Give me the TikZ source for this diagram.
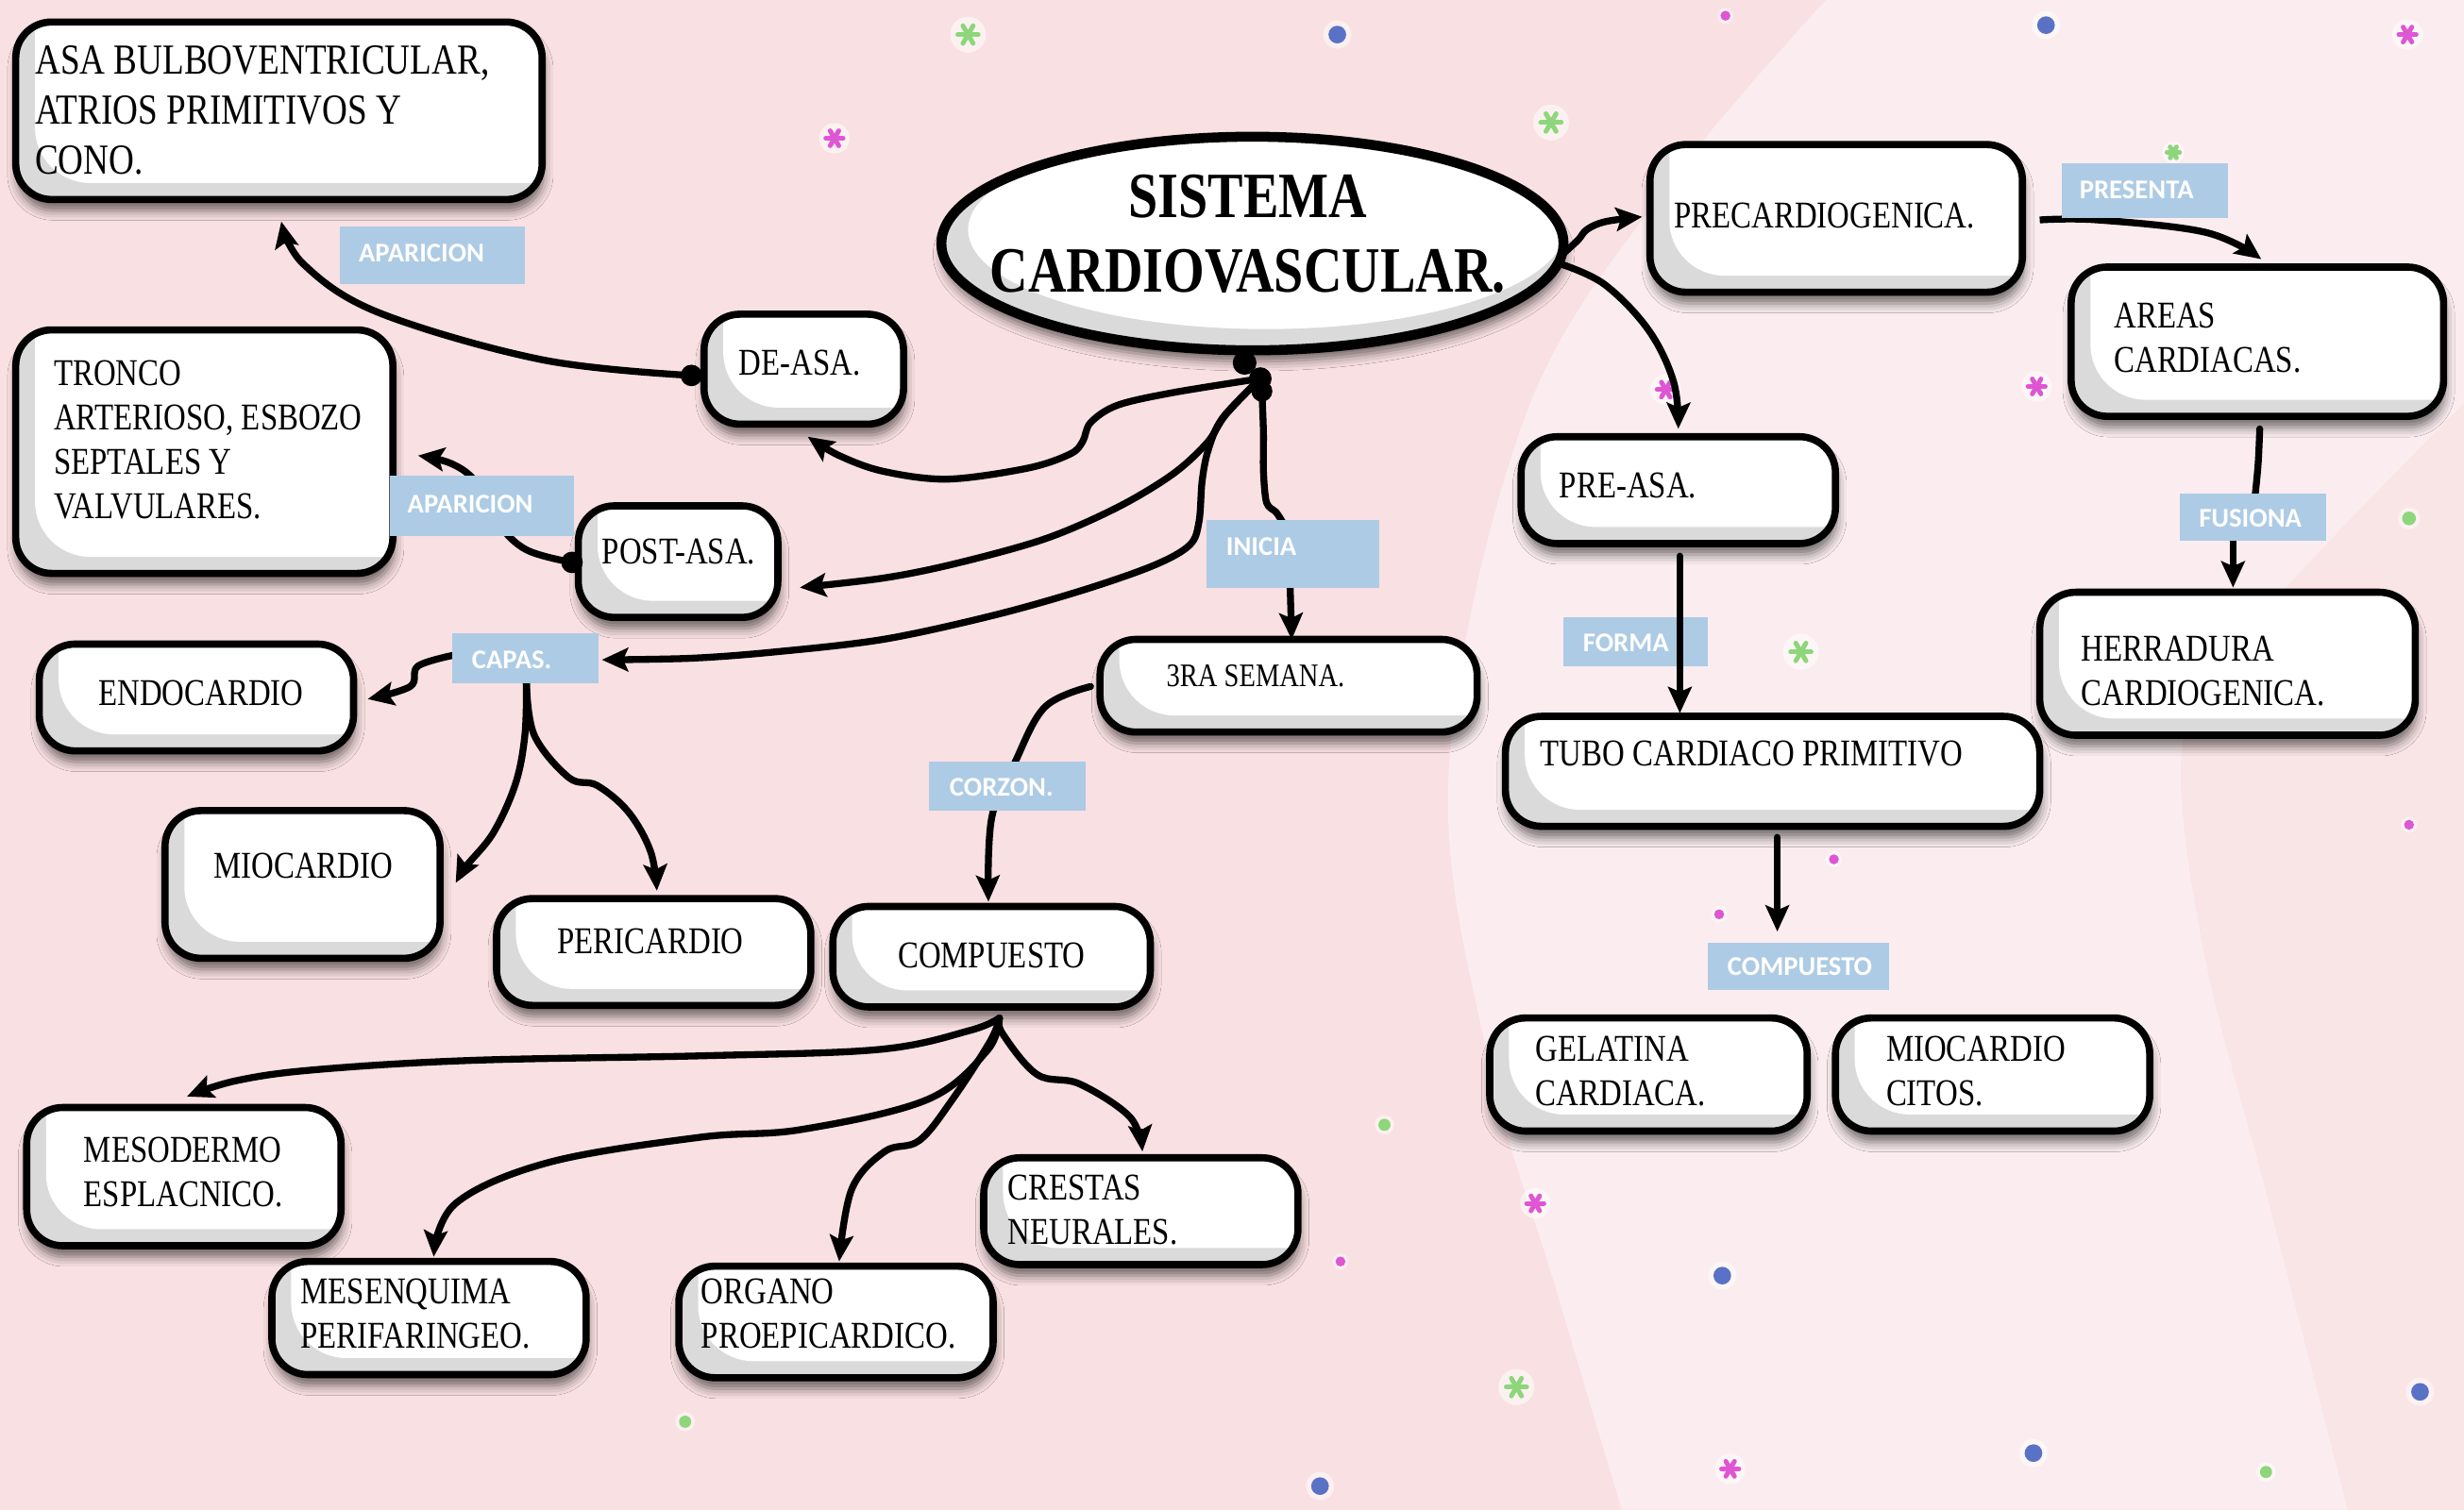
\documentclass[tikz,border=0pt]{standalone}
\usepackage{fontspec}
\setmainfont{Liberation Serif}
\newfontfamily\boxfont[FakeStretch=0.82]{Liberation Serif}
\newfontfamily\tagfont{Carlito}
\usetikzlibrary{arrows.meta,fit,calc,shapes.geometric,shadows.blur}

\definecolor{bgpink}{HTML}{F9E0E2}
\definecolor{bglight}{HTML}{FBEDEF}
\definecolor{bgband}{HTML}{F9E4E6}
\definecolor{boxgrey}{HTML}{DADADA}
\definecolor{tagblue}{HTML}{ADCBE4}
\definecolor{stargreen}{HTML}{8ED67B}
\definecolor{starpink}{HTML}{DE56D3}
\definecolor{dotblue}{HTML}{5A72C6}

% small decorative sparkles of the background
\newcommand{\sparkle}[4]{%
  \fill[white,opacity=0.55] (#1,#2) circle[radius=#4*1pt];
  \foreach \ang in {0,60,120}
    \draw[#3,line width=1.7pt,line cap=round] (#1,#2) ++(\ang:#4) -- ++(\ang+180:2*#4);}
\newcommand{\speck}[4]{%
  \fill[white,opacity=0.5] (#1,#2) circle[radius=#4*1.6pt];
  \fill[#3] (#1,#2) circle[radius=#4*1pt];}

\begin{document}
\begin{tikzpicture}[x=0.02cm,y=-0.02cm,
  mapbox/.style={draw=black,line width=2.6pt,rounded corners=13pt,fill=boxgrey,inner sep=0pt,
    blur shadow={shadow xshift=0.5pt,shadow yshift=-4pt,shadow blur radius=3.5pt,shadow opacity=55},
    path picture={\fill[white,rounded corners=20pt]
      ([xshift=7pt,yshift=6pt]path picture bounding box.south west) rectangle
      ([xshift=30pt,yshift=30pt]path picture bounding box.north east);}},
  mainoval/.style={ellipse,draw=black,line width=3.6pt,fill=boxgrey,inner sep=0pt,
    minimum width=7.92cm,minimum height=2.72cm,
    blur shadow={shadow xshift=0.5pt,shadow yshift=-4pt,shadow blur radius=3.5pt,shadow opacity=55},
    path picture={\fill[white] ([xshift=5pt,yshift=5pt]path picture bounding box.center)
      ellipse[x radius=108pt,y radius=36pt];}},
  boxtext/.style={font=\boxfont\fontsize{13.7}{16.1}\selectfont,align=left,inner sep=0pt,text=black},
  bigtext/.style={font=\boxfont\fontsize{15.5}{18.1}\selectfont,align=left,inner sep=0pt,text=black},
  smalltext/.style={font=\boxfont\fontsize{11.9}{14}\selectfont,align=left,inner sep=0pt,text=black},
  titletext/.style={font=\boxfont\bfseries\fontsize{23.4}{27.2}\selectfont,align=center,inner sep=0pt,text=black},
  tag/.style={fill=tagblue,inner sep=0pt},
  tagtext/.style={font=\tagfont\bfseries\fontsize{9.8}{11}\selectfont,text=white,anchor=west,inner sep=0pt},
  conn/.style={draw=black,line width=2.5pt,line cap=round,line join=round},
  tip/.style={-{Stealth[length=9.5pt,width=8.5pt,inset=1.8pt]}},
  startdot/.style={fill=black}]

\useasboundingbox (0,0) rectangle (1568,961);

% ---------- background ----------
\fill[bgpink] (0,0) rectangle (1568,961);
\fill[bglight] plot[smooth,tension=0.6] coordinates {(1162,0) (1060,120) (971,264) (922,490) (947,674) (990,820) (1032,961)}
  -- (1494,961) -- plot[smooth,tension=0.6] coordinates {(1494,961) (1444,766) (1404,613) (1388,490) (1408,429) (1484,343) (1568,257)}
  -- (1568,0) -- cycle;
\fill[bgband] plot[smooth,tension=0.6] coordinates {(1494,961) (1444,766) (1404,613) (1388,490) (1408,429) (1484,343) (1568,257)}
  -- (1568,961) -- cycle;

\sparkle{616}{22}{stargreen}{6.5}
\sparkle{987}{78}{stargreen}{6.5}
\sparkle{1146}{415}{stargreen}{6.5}
\sparkle{965}{883}{stargreen}{6.5}
\sparkle{1383}{97}{stargreen}{4}
\sparkle{531}{88}{starpink}{5.5}
\sparkle{1532}{22}{starpink}{5.5}
\sparkle{1060}{248}{starpink}{5.5}
\sparkle{1296}{246}{starpink}{5.5}
\sparkle{977}{766}{starpink}{5.5}
\sparkle{1101}{935}{starpink}{5.5}
\speck{851}{22}{dotblue}{3.2}
\speck{1302}{16}{dotblue}{3.2}
\speck{1096}{812}{dotblue}{3.2}
\speck{1540}{886}{dotblue}{3.2}
\speck{1294}{925}{dotblue}{3.2}
\speck{840}{946}{dotblue}{3.2}
\speck{1533}{330}{stargreen}{2.5}
\speck{881}{716}{stargreen}{2.2}
\speck{436}{905}{stargreen}{2.2}
\speck{1442}{937}{stargreen}{2.2}
\speck{1098}{10}{starpink}{1.8}
\speck{1533}{525}{starpink}{1.8}
\speck{1167}{547}{starpink}{1.8}
\speck{1094}{582}{starpink}{1.8}
\speck{853}{803}{starpink}{1.8}

% ---------- boxes ----------
\node[mainoval] (sis) at (797,155) {};
\node[titletext] (sis-t) at (794,149) {SISTEMA\\CARDIOVASCULAR.};

\node[mapbox,fit={(10,14) (345,127)}] (asa) {};
\node[bigtext,anchor=west] (asa-t) at (22,70) {ASA BULBOVENTRICULAR,\\ATRIOS PRIMITIVOS Y\\CONO.};

\node[mapbox,fit={(448,200) (575,270)}] (deasa) {};
\node[boxtext] (deasa-t) at (509,231) {DE-ASA.};

\node[mapbox,fit={(10,210) (250,365)}] (tronco) {};
\node[boxtext,anchor=west] (tronco-t) at (34,280) {TRONCO\\ARTERIOSO, ESBOZO\\SEPTALES Y\\VALVULARES.};

\node[mapbox,fit={(368,322) (495,393)}] (postasa) {};
\node[boxtext] (postasa-t) at (432,351) {POST-ASA.};

\node[mapbox,fit={(25,410) (225,478)}] (endo) {};
\node[boxtext] (endo-t) at (128,441) {ENDOCARDIO};

\node[mapbox,fit={(105,516) (280,610)}] (mio) {};
\node[boxtext] (mio-t) at (193,551) {MIOCARDIO};

\node[mapbox,fit={(316,572) (516,640)}] (peri) {};
\node[boxtext] (peri-t) at (414,599) {PERICARDIO};

\node[mapbox,fit={(700,407) (940,466)}] (semana) {};
\node[smalltext,anchor=west] (semana-t) at (742,430) {3RA SEMANA.};

\node[mapbox,fit={(530,577) (732,641)}] (comp) {};
\node[boxtext] (comp-t) at (631,608) {COMPUESTO};

\node[mapbox,fit={(17,705) (217,793)}] (meso) {};
\node[boxtext,anchor=west] (meso-t) at (53,746) {MESODERMO\\ESPLACNICO.};

\node[mapbox,fit={(173,803) (373,875)}] (mesen) {};
\node[boxtext,anchor=west] (mesen-t) at (191,836) {MESENQUIMA\\PERIFARINGEO.};

\node[mapbox,fit={(432,806) (632,877)}] (organo) {};
\node[boxtext,anchor=west] (organo-t) at (446,836) {ORGANO\\PROEPICARDICO.};

\node[mapbox,fit={(626,737) (826,805)}] (crestas) {};
\node[boxtext,anchor=west] (crestas-t) at (641,770) {CRESTAS\\NEURALES.};

\node[mapbox,fit={(1050,92) (1287,186)}] (precard) {};
\node[boxtext] (precard-t) at (1161,137) {PRECARDIOGENICA.};

\node[mapbox,fit={(1318,170) (1555,265)}] (areas) {};
\node[boxtext,anchor=west] (areas-t) at (1345,215) {AREAS\\CARDIACAS.};

\node[mapbox,fit={(968,278) (1168,346)}] (preasa) {};
\node[boxtext,anchor=west] (preasa-t) at (992,309) {PRE-ASA.};

\node[mapbox,fit={(1298,377) (1537,468)}] (herr) {};
\node[boxtext,anchor=west] (herr-t) at (1324,427) {HERRADURA\\CARDIOGENICA.};

\node[mapbox,fit={(958,456) (1298,526)}] (tubo) {};
\node[boxtext,anchor=west] (tubo-t) at (980,480) {TUBO CARDIACO PRIMITIVO};

\node[mapbox,fit={(948,648) (1150,720)}] (gel) {};
\node[boxtext,anchor=west] (gel-t) at (977,682) {GELATINA\\CARDIACA.};

\node[mapbox,fit={(1168,648) (1368,720)}] (mioc) {};
\node[boxtext,anchor=west] (mioc-t) at (1200,682) {MIOCARDIO\\CITOS.};

% ---------- connector end points ----------
\coordinate (hubA) at (792,231);
\coordinate (hubB) at (802,241);
\coordinate (hubC) at (803,249);
\coordinate (toDeasa) at (514,278);
\coordinate (toPost) at (509,374);
\coordinate (toCapas) at (383,420);
\coordinate (toInicia) at (816,332);
\coordinate (iniB) at (821,374);
\coordinate (toSemana) at (822,407);
\coordinate (dotDe) at (440,239);
\coordinate (toAsa) at (179,141);
\coordinate (dotPost) at (364,358);
\coordinate (toTronco) at (266,290);
\coordinate (capL) at (289,417);
\coordinate (capB) at (335,435);
\coordinate (toEndo) at (234,445);
\coordinate (toMio) at (290,562);
\coordinate (toPeri) at (418,567);
\coordinate (semL) at (694,437);
\coordinate (toComp) at (629,574);
\coordinate (fan) at (636,648);
\coordinate (toMeso) at (119,698);
\coordinate (toMesen) at (276,800);
\coordinate (toOrgano) at (534,803);
\coordinate (toCrestas) at (727,733);
\coordinate (sisR) at (993,163);
\coordinate (sisR2) at (993,168);
\coordinate (toPrecard) at (1045,138);
\coordinate (toPreasa) at (1068,273);
\coordinate (precR) at (1298,140);
\coordinate (toAreas) at (1439,165);
\coordinate (areasB) at (1438,273);
\coordinate (fusT) at (1435,316);
\coordinate (fusB) at (1421,344);
\coordinate (toHerr) at (1421,374);
\coordinate (preasaB) at (1069,354);
\coordinate (toTubo) at (1069,454);
\coordinate (tuboB) at (1131,533);
\coordinate (toComptag) at (1131,593);

% ---------- connectors ----------
\draw[conn,tip] plot[smooth,tension=0.55] coordinates {(hubB) (746,250) (711,258) (694,269) (689,281) (681,289) (654,298) (603,305) (562,300) (534,290) (toDeasa)};
\draw[conn,tip] plot[smooth,tension=0.55] coordinates {(hubB) (780,264) (768,282) (746,302) (711,323) (665,343) (607,359) (562,368) (toPost)};
\draw[conn,tip] plot[smooth,tension=0.55] coordinates {(hubB) (778,266) (769,286) (765,306) (763,332) (757,347) (734,360) (688,376) (631,392) (562,407) (493,415) (440,419) (toCapas)};
\draw[conn] plot[smooth,tension=0.5] coordinates {(hubC) (804,275) (804,300) (806,320) (812,326) (toInicia)};
\draw[conn,tip] (iniB) -- (toSemana);

\draw[conn,tip] plot[smooth,tension=0.6] coordinates {(sisR) (1004,153) (1010,146) (1022,141) (toPrecard)};
\draw[conn,tip] plot[smooth,tension=0.6] coordinates {(sisR2) (1021,181) (1049,210) (1065,243) (toPreasa)};

\draw[conn,tip] plot[smooth,tension=0.6] coordinates {(dotDe) (345,229) (241,199) (193,168) (toAsa)};
\draw[conn,tip] plot[smooth,tension=0.6] coordinates {(dotPost) (335,350) (317,333) (303,307) (287,295) (toTronco)};

\draw[conn,tip] plot[smooth,tension=0.6] coordinates {(capL) (266,424) (261,437) (toEndo)};
\draw[conn,tip] plot[smooth,tension=0.6] coordinates {(capB) (334,468) (328,499) (314,530) (297,551) (toMio)};
\draw[conn,tip] plot[smooth,tension=0.6] coordinates {(capB) (340,468) (362,495) (380,500) (400,517) (414,542) (toPeri)};

\draw[conn,tip] plot[smooth,tension=0.6] coordinates {(semL) (665,450) (646,485) (631,521) (toComp)};

\draw[conn,tip] plot[smooth,tension=0.6] coordinates {(fan) (617,656) (560,668) (450,672) (300,675) (200,681) (150,688) (toMeso)};
\draw[conn,tip] plot[smooth,tension=0.6] coordinates {(fan) (628,669) (590,700) (510,719) (445,724) (349,740) (290,766) (toMesen)};
\draw[conn,tip] plot[smooth,tension=0.6] coordinates {(fan) (630,663) (606,700) (585,726) (563,733) (542,757) (toOrgano)};
\draw[conn,tip] plot[smooth,tension=0.6] coordinates {(fan) (638,658) (660,684) (687,690) (719,711) (toCrestas)};

\draw[conn,tip,line cap=butt] plot[smooth,tension=0.6] coordinates {(precR) (1335,140) (1404,148) (toAreas)};
\draw[conn] plot[smooth,tension=0.6] coordinates {(areasB) (1437,295) (fusT)};
\draw[conn,tip] (fusB) -- (toHerr);

% start dots
\fill[startdot] (hubA) circle[radius=4.3pt];
\fill[startdot] (hubB) circle[radius=4.1pt];
\fill[startdot] (hubC) circle[radius=3.8pt];
\fill[startdot] (dotDe) circle[radius=3.9pt];
\fill[startdot] (dotPost) circle[radius=3.9pt];

% ---------- link labels ----------
\node[tag,fit={(216,144) (334,181)}] (apar1) {};
\node[tagtext] (apar1-t) at (228,161) {APARICION};
\node[tag,fit={(248,303) (365,341)}] (apar2) {};
\node[tagtext] (apar2-t) at (259,321) {APARICION};
\node[tag,fit={(768,331) (878,374)}] (inicia) {};
\node[tagtext] (inicia-t) at (780,348) {INICIA};
\node[tag,fit={(288,403) (381,435)}] (capas) {};
\node[tagtext] (capas-t) at (300,420) {CAPAS.};
\node[tag,fit={(591,485) (691,516)}] (corzon) {};
\node[tagtext] (corzon-t) at (604,501) {CORZON.};
\node[tag,fit={(995,393) (1087,424)}] (forma) {};
\node[tagtext] (forma-t) at (1007,409) {FORMA};
\node[tag,fit={(1312,104) (1418,139)}] (presenta) {};
\node[tagtext] (presenta-t) at (1323,121) {PRESENTA};
\node[tag,fit={(1387,314) (1480,344)}] (fusiona) {};
\node[tagtext] (fusiona-t) at (1399,330) {FUSIONA};
\node[tag,fit={(1087,600) (1202,630)}] (comptag) {};
\node[tagtext] (comptag-t) at (1099,615) {COMPUESTO};

% connectors drawn over the labels
\draw[conn,tip] (preasaB) -- (toTubo);
\draw[conn,tip] (tuboB) -- (toComptag);

\end{tikzpicture}
\end{document}
